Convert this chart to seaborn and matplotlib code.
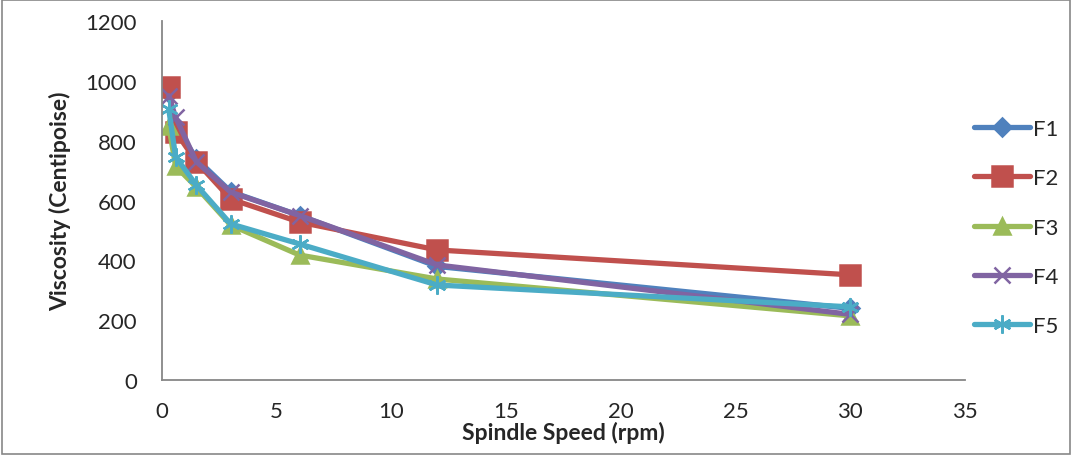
import matplotlib
matplotlib.use("Agg")
import matplotlib.pyplot as plt
import seaborn as sns
import pandas as pd

speed = [0.3, 0.6, 1.5, 3, 6, 12, 30]
F1 = [960, 850, 740, 630, 550, 380, 240]
F2 = [980, 830, 730, 605, 528, 435, 352]
F3 = [850, 715, 645, 518, 418, 338, 215]
F4 = [950, 878, 730, 628, 550, 385, 220]
F5 = [905, 746, 652, 522, 455, 318, 245]
names = ["F1", "F2", "F3", "F4", "F5"]
series = [F1, F2, F3, F4, F5]
colors = ["#4F81BD", "#C0504D", "#9BBB59", "#8064A2", "#4BACC6"]
markers = ["D", "s", "^", "x", (6, 2, 0)]
msizes = [9, 14, 12, 12, 13]

sns.set_style("white")
plt.rcParams['font.family'] = ['Lato', 'DejaVu Sans']

fig = plt.figure(figsize=(10.72, 4.56), dpi=100)
ax = fig.add_axes([0.151, 0.164, 0.749, 0.788])

for name, vals, c, m, ms in zip(names, series, colors, markers, msizes):
    df = pd.DataFrame({"x": speed, "y": vals})
    sns.lineplot(data=df, x="x", y="y", ax=ax, color=c, lw=3.8, marker=m,
                 markersize=ms, markeredgecolor=c, markeredgewidth=1.8,
                 label=name, solid_capstyle="round")

ax.set_xlim(0, 35)
ax.set_ylim(0, 1200)
ax.set_xticks(range(0, 36, 5))
ax.set_yticks(range(0, 1201, 200))
ax.tick_params(axis="y", labelsize=16, length=0, pad=18)
ax.tick_params(axis="x", labelsize=16, length=0, pad=15)
ax.set_xlabel("Spindle Speed (rpm)", fontsize=16.5, fontweight="bold", labelpad=0)
ax.set_ylabel("Viscosity (Centipoise)", fontsize=16.5, fontweight="bold", labelpad=10)
for s in ["top", "right"]:
    ax.spines[s].set_visible(False)
for s in ["left", "bottom"]:
    ax.spines[s].set_color("#878787")
    ax.spines[s].set_linewidth(1.3)

leg = ax.legend(loc="center left", bbox_to_anchor=(1.012, 0.425), frameon=False,
                fontsize=16, handlelength=2.5, labelspacing=1.32, handletextpad=0.15,
                borderaxespad=0, borderpad=0)

rect = plt.Rectangle((0.002, 0.003), 0.996, 0.994, transform=fig.transFigure,
                     fill=False, edgecolor="#878787", lw=1.2)
fig.patches.append(rect)

fig.savefig("out.png", dpi=100)
